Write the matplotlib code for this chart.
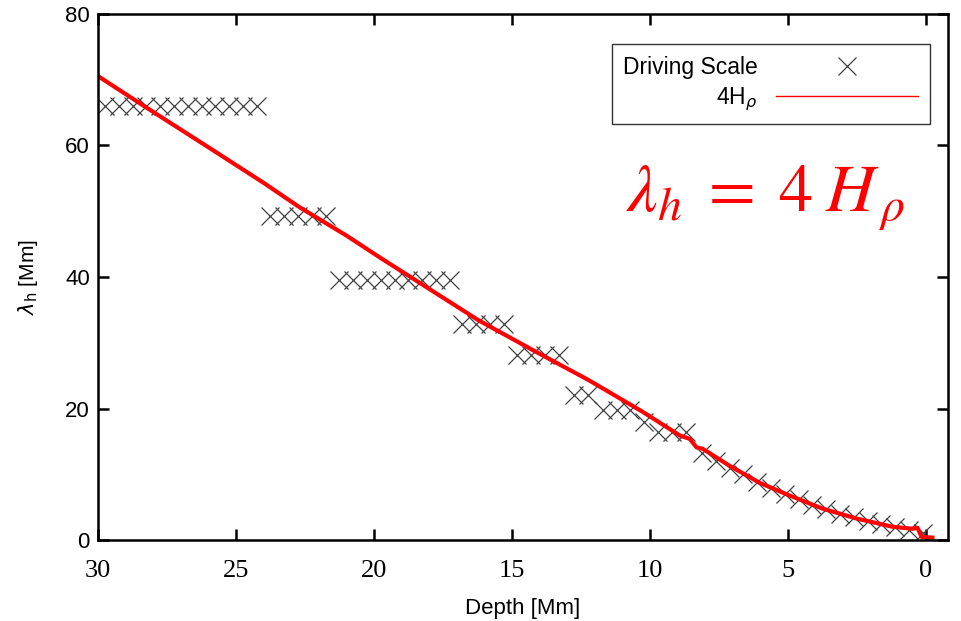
import matplotlib.pyplot as plt
from matplotlib.lines import Line2D

plt.rcParams['font.family'] = ['Liberation Sans', 'DejaVu Sans']
plt.rcParams['font.size'] = 15

# Driving scale (crosses)
drive_depth = [29.75, 29.25, 28.75, 28.25, 27.75, 27.25, 26.75, 26.25, 25.75, 25.25, 24.75, 24.25,
               23.75, 23.25, 22.75, 22.25, 21.75,
               21.25, 20.75, 20.25, 19.75, 19.25, 18.75, 18.25, 17.75, 17.25,
               16.8, 16.3, 15.8, 15.3,
               14.8, 14.3, 13.8, 13.3,
               12.75, 12.25,
               11.7, 11.2, 10.7,
               10.2,
               9.7, 9.2, 8.7,
               8.1, 7.6, 7.1, 6.6, 6.1, 5.6, 5.1, 4.6, 4.1, 3.6, 3.1, 2.6, 2.1, 1.6, 1.1, 0.6, 0.1]
drive_scale = [65.9] * 12 + [49.3] * 5 + [39.5] * 9 + [32.9] * 4 + [28.2] * 4 + [22.0] * 2 + \
              [19.8] * 3 + [17.9] + [16.4] * 3 + \
              [13.2, 12.1, 11.0, 10.1, 8.9, 8.0, 7.1, 6.3, 5.4, 4.8, 4.0, 3.5, 3.0, 2.5, 2.0, 1.6, 1.1]

# 4 H_rho curve
hrho_depth = [30, 28.2, 26.0, 24.0, 22.7, 21.0, 19.8, 18.0, 16.2, 14.2, 12.2, 10.25, 8.9, 8.55,
              8.3, 8.08, 7.1, 6.0, 4.93, 3.73, 2.5, 1.2, 0.47, 0.29, 0.14, -0.25]
hrho_val = [70.5, 65.6, 59.7, 54.3, 50.6, 46.3, 43.0, 38.2, 33.4, 28.8, 24.3, 19.5, 15.9, 15.4,
            14.1, 13.9, 11.3, 8.7, 6.8, 4.8, 3.3, 2.05, 1.75, 1.9, 0.5, 0.4]

xticks = [30, 25, 20, 15, 10, 5, 0]
yticks = [0, 20, 40, 60, 80]

fig = plt.figure(figsize=(9.62, 6.21), dpi=100)
ax = fig.add_axes([0.102, 0.130, 0.883, 0.848])

ax.plot(drive_depth, drive_scale, linestyle='none', marker='x', markersize=13,
        markeredgewidth=0.9, color='#404040')
ax.plot(hrho_depth, hrho_val, color='#ff0000', linewidth=3, solid_joinstyle='round')

ax.set_xlim(30, -0.8)
ax.set_ylim(0, 80)
ax.set_xticks(xticks)
ax.set_yticks(yticks)
ax.tick_params(direction='in', length=8, width=1.8, top=True, right=True)
ax.tick_params(axis='x', pad=14, labelsize=19)
ax.tick_params(axis='y', pad=6, labelsize=16)
for lab in ax.get_xticklabels():
    lab.set_fontfamily('Liberation Serif')
for spine in ax.spines.values():
    spine.set_linewidth(1.8)

ax.set_xlabel('Depth [Mm]', fontsize=16, labelpad=12)
ax.set_ylabel(r'$\lambda_{\rm h}$ [Mm]', fontsize=15, labelpad=18)

handles = [Line2D([], [], linestyle='none', marker='x', markersize=13, markeredgewidth=0.9, color='#404040'),
           Line2D([], [], color='#ff0000', linewidth=1)]
leg = ax.legend(handles, ['Driving Scale', r'4H$_\rho$'], loc='upper right',
                bbox_to_anchor=(0.979, 0.942), borderaxespad=0, markerfirst=False,
                fancybox=False, framealpha=1, edgecolor='#333333', fontsize=16.5,
                handlelength=6.2, handletextpad=0.8, borderpad=0.5, labelspacing=0.3)
leg.get_frame().set_linewidth(1.0)

ax.text(0.622, 0.65, r'$\lambda_h\;=\;4\;H_{\,\rho}$', transform=ax.transAxes,
        fontsize=49, color='#ff0000', math_fontfamily='stix', ha='left', va='center')

fig.savefig('out.png', dpi=100, facecolor='white')
